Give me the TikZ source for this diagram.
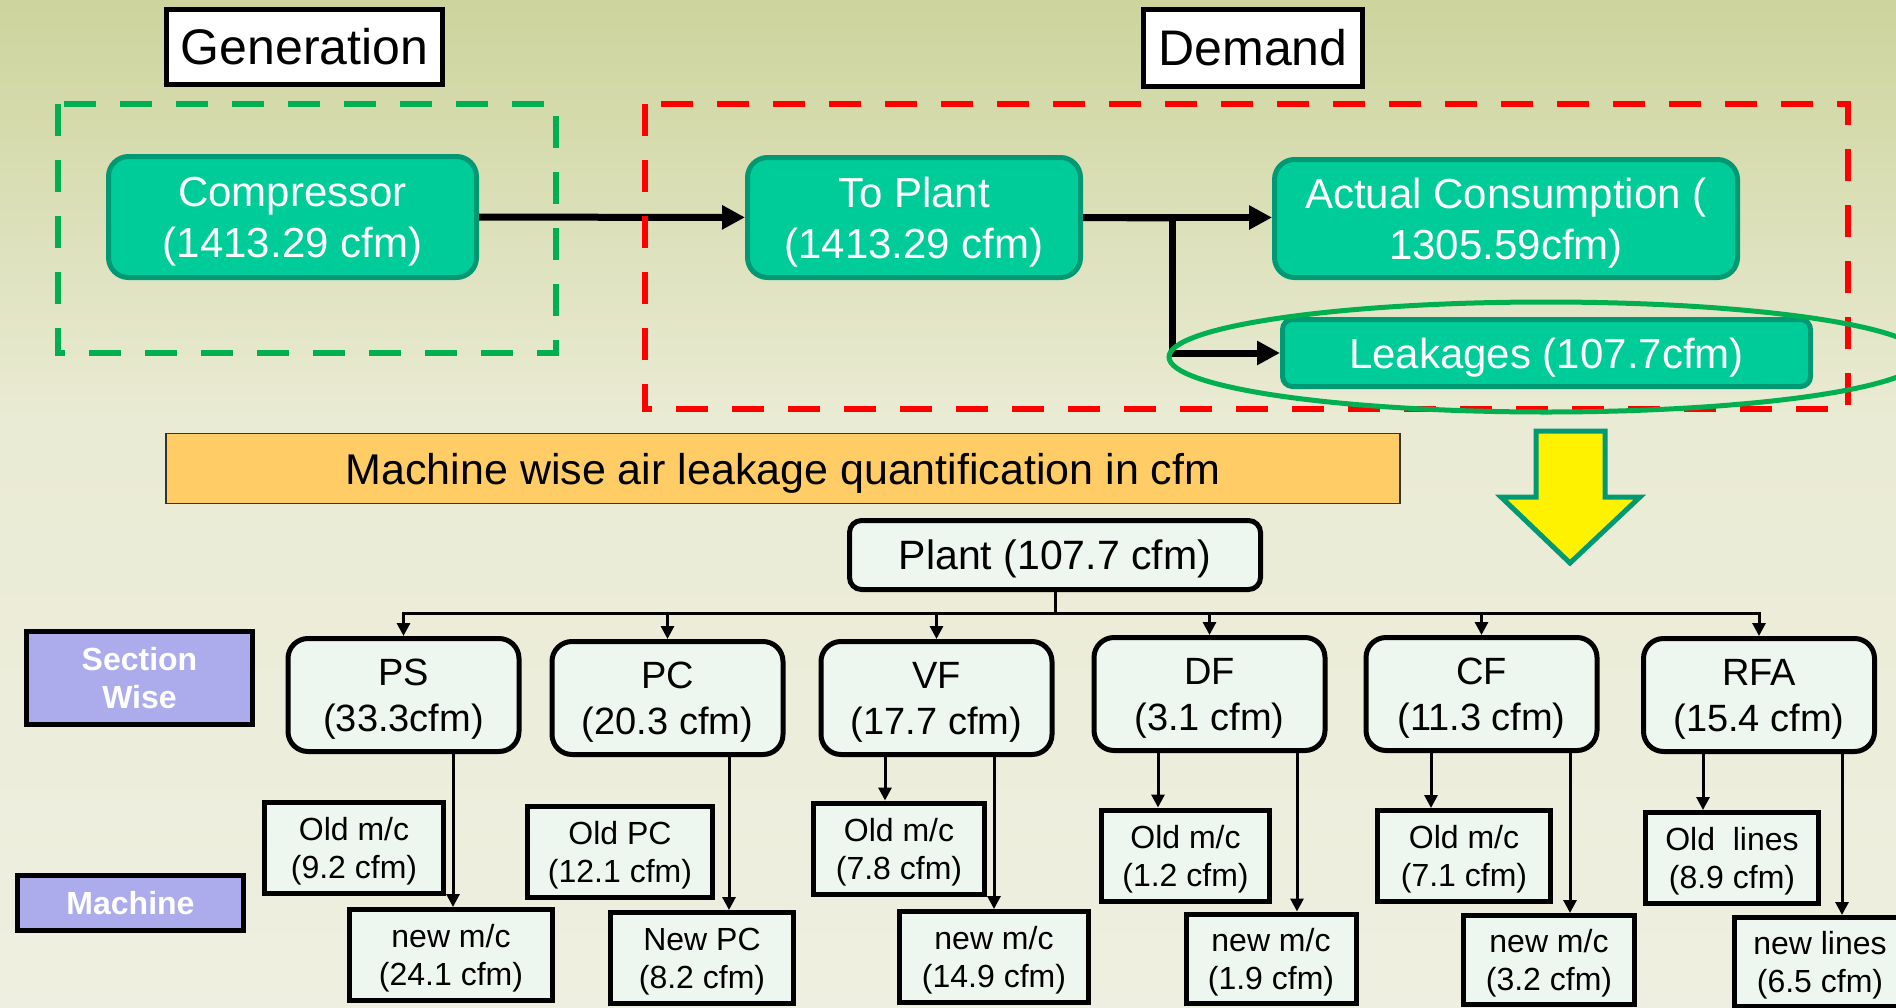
\documentclass[tikz,border=0pt]{standalone}
\usepackage{fontspec}
\setmainfont{Liberation Sans}
\usetikzlibrary{arrows.meta}

\definecolor{tealfill}{RGB}{0,204,153}
\definecolor{tealdraw}{RGB}{0,153,115}
\definecolor{boxfill}{RGB}{237,247,240}
\definecolor{lavender}{RGB}{172,172,236}
\definecolor{bannerfill}{RGB}{255,204,102}
\definecolor{gengreen}{RGB}{0,176,80}
\definecolor{bgtop}{RGB}{205,212,156}
\definecolor{bgmid}{RGB}{234,235,212}
\definecolor{bgbot}{RGB}{239,239,225}

\begin{document}
\begin{tikzpicture}[x=0.5pt,y=-0.5pt,
tealnode/.style={rounded corners=10pt, draw=tealdraw, line width=2.5pt, fill=tealfill, text=white, align=center, inner sep=0pt, text depth=0pt, font=\fontsize{21}{25.5}\selectfont},
headnode/.style={draw=black, line width=2.5pt, fill=white, inner sep=0pt, font=\fontsize{25}{30}\selectfont},
secnode/.style={rounded corners=10pt, draw=black, line width=2.5pt, fill=boxfill, align=center, inner sep=0pt, text depth=0pt, minimum width=115.5pt, minimum height=56.5pt, font=\fontsize{19}{23}\selectfont},
macnode/.style={draw=black, line width=2.5pt, fill=boxfill, align=center, inner sep=0pt, text depth=0pt, minimum height=45.5pt, font=\fontsize{16}{19}\selectfont},
tagnode/.style={draw=black, line width=2.5pt, fill=lavender, text=white, align=center, inner sep=0pt, minimum width=113pt, font=\bfseries\fontsize{16}{19}\selectfont},
bigarrow/.style={line width=3.5pt, -{Triangle[length=11.5pt,width=11.5pt]}},
downarrow/.style={line width=1.5pt, -{Triangle[length=6.5pt,width=6.5pt]}},
]
\useasboundingbox (0,0) rectangle (1896,1007);
\clip (0,0) rectangle (1896,1007);
\shade[top color=bgtop, bottom color=bgmid] (0,0) rectangle (1896,420);
\shade[top color=bgmid, bottom color=bgbot] (0,420) rectangle (1896,1007);

% generation / demand
\node [headnode, minimum width=138pt, minimum height=37.5pt] (gen) at (304.5,47) {Generation};
\node [headnode, minimum width=109.5pt, minimum height=38.5pt] (dem) at (1253,48) {Demand};

\node [tealnode, minimum width=184pt, minimum height=60.5pt] (comp) at (292.5,217) {Compressor\\(1413.29 cfm)};
\node [tealnode, minimum width=166.5pt, minimum height=60pt] (toplant) at (914,217.5) {To Plant\\(1413.29 cfm)};
\node [tealnode, minimum width=231.5pt, minimum height=59pt] (actual) at (1506,218.5) {Actual Consumption (\\1305.59cfm)};
\node [tealnode, rounded corners=5pt, minimum width=264pt, minimum height=33.5pt] (leak) at (1546.5,353) {Leakages (107.7cfm)};

\coordinate (split) at (1172,218);
\draw [bigarrow] (comp) -- (toplant);
\draw [bigarrow] (toplant.east) -- (toplant.east -| actual.west);
\draw [line width=3.5pt] (toplant.east) -- (split);
\draw [bigarrow] ([yshift=1.75pt]split) |- (leak.west);

\draw [gengreen, line width=3pt, dash pattern=on 16pt off 12pt] (58,104) rectangle (556,353);
\draw [red, line width=3pt, dash pattern=on 16pt off 12pt] (645,104) rectangle (1848,409);
\draw [gengreen, line width=2.5pt] (1546,357) ellipse [x radius=377, y radius=55];

% leakage breakdown
\node [draw=black!80, line width=0.6pt, fill=bannerfill, minimum width=617pt, minimum height=35pt, inner sep=0pt, text depth=0pt, font=\fontsize{21.5}{26}\selectfont] (banner) at (783,468.5) {Machine wise air leakage quantification in cfm};
\draw [tealdraw, fill=yellow, line width=2.5pt, line join=miter] (1536,431) -- (1605,431) -- (1605,497) -- (1640,497) -- (1570,563) -- (1501,497) -- (1536,497) -- cycle;

\node [draw=black, line width=2.5pt, fill=boxfill, rounded corners=6pt, minimum width=205.5pt, minimum height=34.5pt, inner sep=0pt, text depth=0pt, font=\fontsize{20.5}{24}\selectfont] (plant) at (1055,555) {Plant (107.7 cfm)};

\node [tagnode, minimum height=46.5pt] (secwise) at (139.5,678) {Section\\Wise};
\node [tagnode, minimum height=27.5pt] (mactag) at (130.5,903) {Machine};

\node [secnode] (ps) at (403.5,695) {PS\\(33.3cfm)};
\node [secnode] (pc) at (667.5,698) {PC\\(20.3 cfm)};
\node [secnode] (vf) at (936.5,698) {VF\\(17.7 cfm)};
\node [secnode] (df) at (1209.5,694) {DF\\(3.1 cfm)};
\node [secnode] (cf) at (1481.5,694) {CF\\(11.3 cfm)};
\node [secnode] (rfa) at (1759,695) {RFA\\(15.4 cfm)};

\node [macnode, minimum width=89.5pt] (psold) at (354,848) {Old m/c\\(9.2 cfm)};
\node [macnode, minimum width=101.5pt] (psnew) at (451,955) {new m/c\\(24.1 cfm)};
\node [macnode, minimum width=92.5pt] (pcold) at (620,851.5) {Old PC\\(12.1 cfm)};
\node [macnode, minimum width=91.5pt] (pcnew) at (702,958) {New PC\\(8.2 cfm)};
\node [macnode, minimum width=85.5pt] (vfold) at (899,848.5) {Old m/c\\(7.8 cfm)};
\node [macnode, minimum width=94.5pt] (vfnew) at (994,957) {new m/c\\(14.9 cfm)};
\node [macnode, minimum width=84pt] (dfold) at (1185.5,855.5) {Old m/c\\(1.2 cfm)};
\node [macnode, minimum width=85pt, minimum height=44.5pt] (dfnew) at (1271,958.5) {new m/c\\(1.9 cfm)};
\node [macnode, minimum width=86.5pt] (cfold) at (1464,856) {Old m/c\\(7.1 cfm)};
\node [macnode, minimum width=85.5pt, minimum height=44.5pt] (cfnew) at (1549,960) {new m/c\\(3.2 cfm)};
\node [macnode, minimum width=86.5pt] (rfaold) at (1732,858) {Old~ lines\\(8.9 cfm)};
\node [macnode, minimum width=86pt, minimum height=44.5pt] (rfanew) at (1820,962) {new lines\\(6.5 cfm)};

\coordinate (bus) at (1055,613);
\draw [line width=1.5pt] (plant.south) -- (bus);
\draw [downarrow] (bus) -| (ps.north);
\draw [downarrow] (bus) -| (pc.north);
\draw [downarrow] (bus) -| (vf.north);
\draw [downarrow] (bus) -| (df.north);
\draw [downarrow] (bus) -| (cf.north);
\draw [downarrow] (bus) -| (rfa.north);

\draw [downarrow] (453,0 |- ps.south) -- (453,0 |- psnew.north);
\draw [downarrow] (729,0 |- pc.south) -- (729,0 |- pcnew.north);
\draw [downarrow] (885,0 |- vf.south) -- (885,0 |- vfold.north);
\draw [downarrow] (994,0 |- vf.south) -- (994,0 |- vfnew.north);
\draw [downarrow] (1158,0 |- df.south) -- (1158,0 |- dfold.north);
\draw [downarrow] (1297,0 |- df.south) -- (1297,0 |- dfnew.north);
\draw [downarrow] (1431,0 |- cf.south) -- (1431,0 |- cfold.north);
\draw [downarrow] (1570,0 |- cf.south) -- (1570,0 |- cfnew.north);
\draw [downarrow] (1703,0 |- rfa.south) -- (1703,0 |- rfaold.north);
\draw [downarrow] (1842,0 |- rfa.south) -- (1842,0 |- rfanew.north);
\end{tikzpicture}
\end{document}
